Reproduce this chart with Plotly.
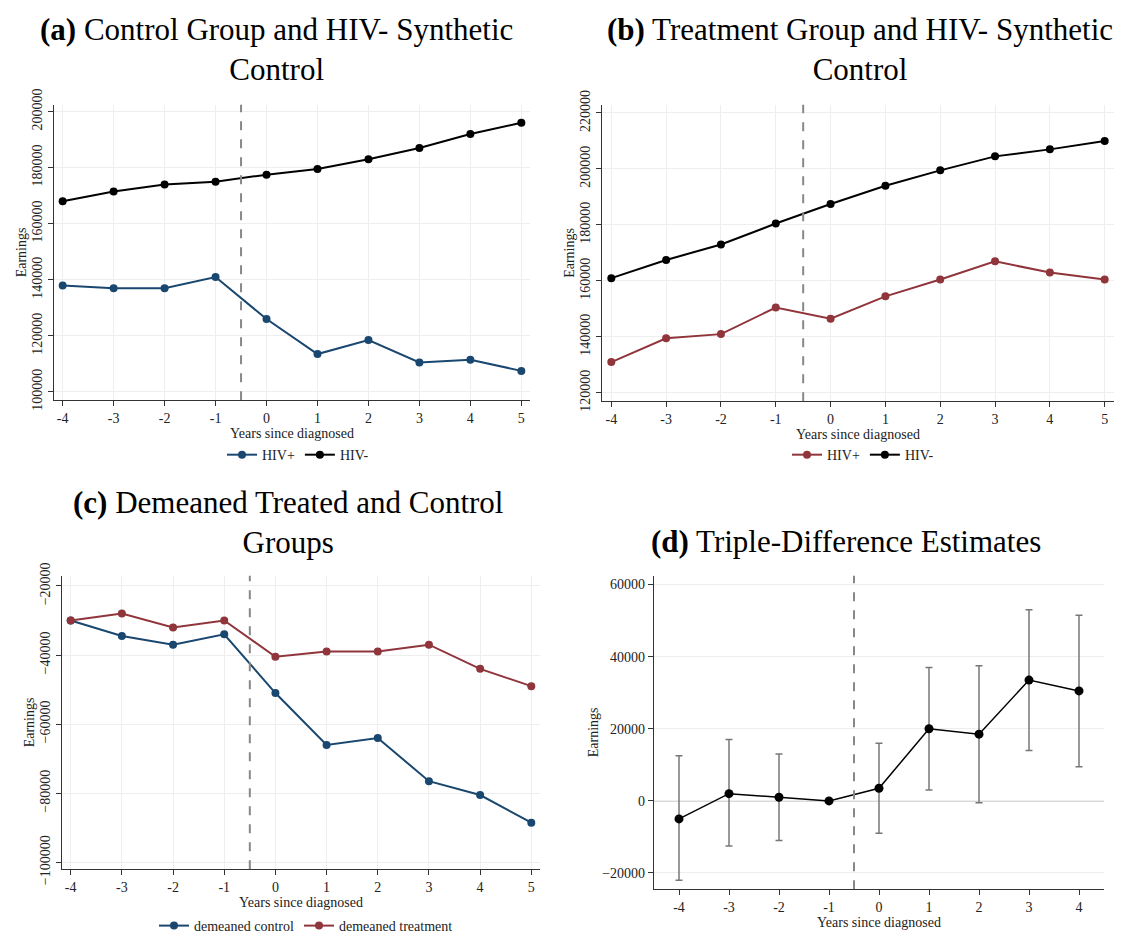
import plotly.graph_objects as go

years = [-4, -3, -2, -1, 0, 1, 2, 3, 4, 5]
a_pos = [138000, 137000, 137000, 141000, 126000, 113500, 118500, 110500, 111500, 107500]
a_neg = [168000, 171500, 174000, 175000, 177500, 179500, 183000, 187000, 192000, 196000]
b_pos = [131000, 139500, 141000, 150500, 146500, 154500, 160500, 167000, 163000, 160500]
b_neg = [161000, 167500, 173000, 180500, 187500, 194000, 199500, 204500, 207000, 210000]
c_ctrl = [-30000, -34500, -37000, -34000, -51000, -66000, -64000, -76500, -80500, -88500]
c_trt = [-30000, -28000, -32000, -30000, -40500, -39000, -39000, -37000, -44000, -49000]
d_years = [-4, -3, -2, -1, 0, 1, 2, 3, 4]
d_est = [-5000, 2000, 1000, 0, 3500, 20000, 18500, 33500, 30500]
d_lo = [-22000, -12500, -11000, None, -9000, 3000, -500, 14000, 9500]
d_hi = [12500, 17000, 13000, None, 16000, 37000, 37500, 53000, 51500]

BLUE = "#1a476f"
RED = "#90353b"
W, H = 1122, 934
F = "Liberation Serif"

fig = go.Figure()

def line(x, y, color, name, xa, ya, legend, show=True):
    fig.add_trace(go.Scatter(x=x, y=y, mode="lines+markers", name=name,
                             line=dict(color=color, width=2),
                             marker=dict(color=color, size=8),
                             xaxis=xa, yaxis=ya, legend=legend, showlegend=show))

line(years, a_pos, BLUE, "HIV+", "x", "y", "legend")
line(years, a_neg, "black", "HIV-", "x", "y", "legend")
line(years, b_pos, RED, "HIV+", "x2", "y2", "legend2")
line(years, b_neg, "black", "HIV-", "x2", "y2", "legend2")
line(years, c_ctrl, BLUE, "demeaned control", "x3", "y3", "legend3")
line(years, c_trt, RED, "demeaned treatment", "x3", "y3", "legend3")

for x, lo, hi in zip(d_years, d_lo, d_hi):
    if lo is None:
        continue
    fig.add_trace(go.Scatter(x=[x, x, None, x - 0.07, x + 0.07, None, x - 0.07, x + 0.07],
                             y=[lo, hi, None, lo, lo, None, hi, hi], mode="lines",
                             line=dict(color="#777777", width=1.5),
                             xaxis="x4", yaxis="y4", showlegend=False, hoverinfo="skip"))
fig.add_trace(go.Scatter(x=d_years, y=d_est, mode="lines+markers",
                         line=dict(color="black", width=1.5), marker=dict(color="black", size=9),
                         xaxis="x4", yaxis="y4", showlegend=False))

def px(x0, x1):
    return [x0 / W, x1 / W]

def py(y0, y1):
    return [1 - y1 / H, 1 - y0 / H]

ax = dict(showline=True, linecolor="#333333", linewidth=1.2, ticks="outside", ticklen=5,
          tickcolor="#333333", showgrid=True, gridcolor="#eeeeee", zeroline=False,
          tickfont=dict(family=F, size=14, color="#222"), mirror=False, automargin=False,
          tickformat="d")
xt = dict(ax, tickmode="array", tickvals=years, ticktext=[str(v) for v in years],
          title=dict(text="Years since diagnosed", font=dict(family=F, size=14, color="#222"), standoff=0))
yt = dict(ax, title=dict(text="Earnings", font=dict(family=F, size=14, color="#222"), standoff=0))

def vline(xa, ya, y0, y1):
    fig.add_shape(type="line", x0=-0.5, x1=-0.5, y0=y0, y1=y1, xref=xa, yref=ya,
                  line=dict(color="#888888", width=2, dash="dash"))

lf = dict(family=F, size=14, color="#222")
fig.update_layout(
    width=W, height=H, plot_bgcolor="white", paper_bgcolor="white",
    margin=dict(l=0, r=0, t=0, b=0),
    xaxis=dict(xt, domain=px(46, 522), range=[-4.17, 5.17], anchor="y"),
    yaxis=dict(yt, domain=py(97, 394), range=[97000, 202500], tickangle=-90,
               tickvals=[100000, 120000, 140000, 160000, 180000, 200000], anchor="x"),
    xaxis2=dict(xt, domain=px(594, 1106), range=[-4.17, 5.17], anchor="y2"),
    yaxis2=dict(yt, domain=py(97, 395), range=[117000, 223000], tickangle=-90,
                tickvals=[120000, 140000, 160000, 180000, 200000, 220000], anchor="x2"),
    xaxis3=dict(xt, domain=px(54, 532), range=[-4.17, 5.17], anchor="y3"),
    yaxis3=dict(yt, domain=py(570, 865), range=[-102000, -17000], tickangle=-90,
                tickvals=[-100000, -80000, -60000, -40000, -20000], anchor="x3"),
    xaxis4=dict(xt, domain=px(646, 1096), range=[-4.5, 4.5], showgrid=False, anchor="y4",
                tickvals=d_years, ticktext=[str(v) for v in d_years]),
    yaxis4=dict(yt, domain=py(570, 885), range=[-24500, 62500],
                tickvals=[-20000, 0, 20000, 40000, 60000], anchor="x4"),
    legend=dict(orientation="h", x=290 / W, y=1 - 449 / H, xanchor="center", yanchor="middle",
                font=lf, bgcolor="rgba(0,0,0,0)"),
    legend2=dict(orientation="h", x=855 / W, y=1 - 449 / H, xanchor="center", yanchor="middle",
                 font=lf, bgcolor="rgba(0,0,0,0)"),
    legend3=dict(orientation="h", x=298 / W, y=1 - 922 / H, xanchor="center", yanchor="middle",
                 font=lf, bgcolor="rgba(0,0,0,0)"),
)
fig.add_shape(type="line", x0=-4.5, x1=4.5, y0=0, y1=0, xref="x4", yref="y4",
              line=dict(color="#cccccc", width=1.5), layer="below")

vline("x", "y", 97000, 202500)
vline("x2", "y2", 117000, 223000)
vline("x3", "y3", -102000, -17000)
vline("x4", "y4", -24500, 62500)

titles = [
    (268, 42, "<b>(a)</b> Control Group and HIV- Synthetic<br>Control"),
    (852, 42, "<b>(b)</b> Treatment Group and HIV- Synthetic<br>Control"),
    (280, 517, "<b>(c)</b> Demeaned Treated and Control<br>Groups"),
    (838, 536, "<b>(d)</b> Triple-Difference Estimates"),
]
for x, y, t in titles:
    fig.add_annotation(x=x / W, y=1 - y / H, xref="paper", yref="paper", text=t, showarrow=False,
                       font=dict(family=F, size=31, color="black"), xanchor="center", yanchor="middle")

fig.write_html("out.html")
